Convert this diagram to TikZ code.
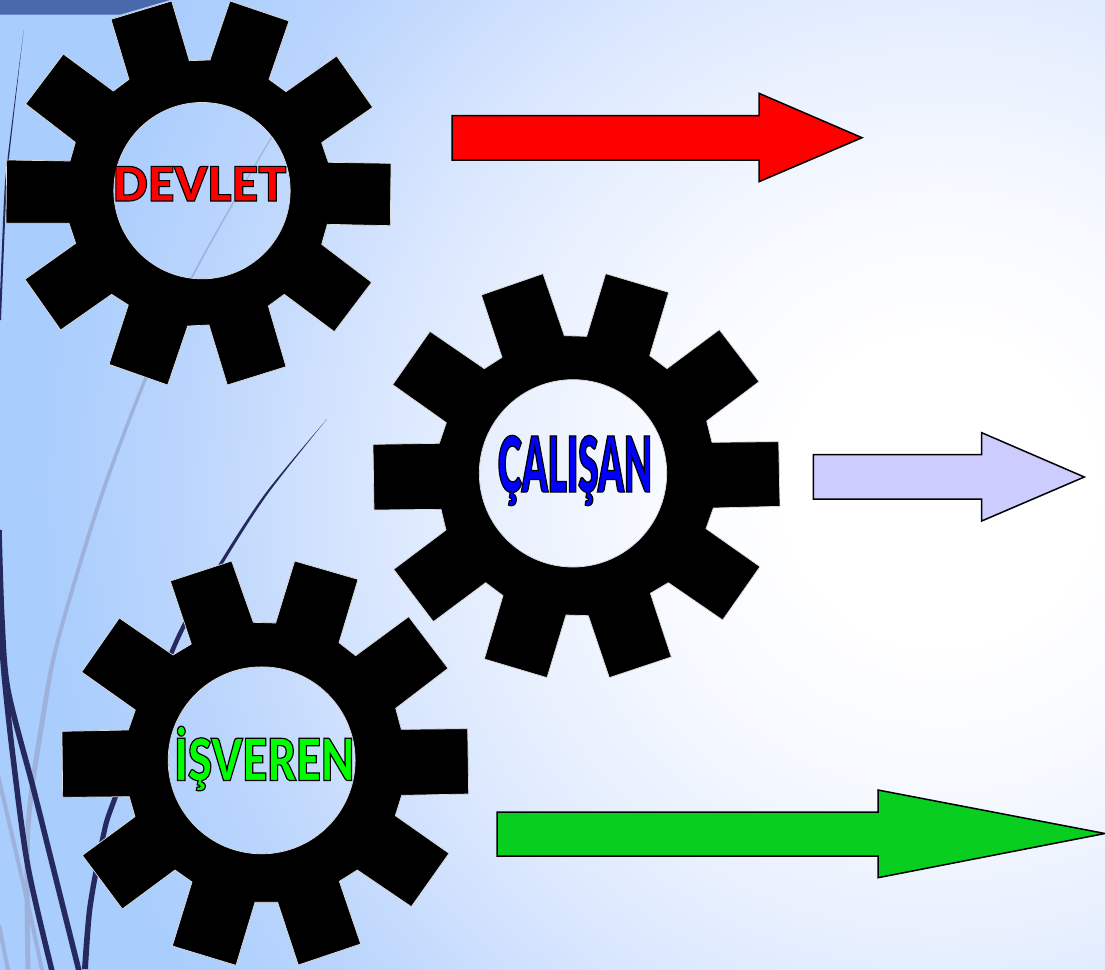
\documentclass[tikz,border=0pt]{standalone}
\usepackage{fontspec}
\setmainfont{Liberation Sans}
\IfFontExistsTF{Noto Sans Black}{\def\heavyname{Noto Sans Black}\def\heavyopt{}}{\IfFontExistsTF{Lato Black}{\def\heavyname{Lato Black}\def\heavyopt{}}{\def\heavyname{Liberation Sans}\def\heavyopt{/B}}}
\font\wordA="\heavyname\heavyopt:embolden=2.4;extend=.975" at 47.5pt
\font\wordB="\heavyname\heavyopt:embolden=1.6;extend=.474" at 77pt
\font\wordC="\heavyname\heavyopt:embolden=2;extend=.75" at 58pt
\newcommand{\blackstroke}{\special{pdf:code 0 0 0 RG}}
\definecolor{navy}{HTML}{26295E}
\definecolor{paleline}{HTML}{9DB1DA}
\definecolor{topband}{HTML}{4A69AD}
\definecolor{gearedge}{HTML}{DDDDDD}
\definecolor{lav}{HTML}{CCCCFF}
\definecolor{arrowgreen}{HTML}{08CF1F}
\definecolor{bgA}{HTML}{FFFFFF}
\definecolor{bgB}{HTML}{F6F9FF}
\definecolor{bgC}{HTML}{E8F0FE}
\definecolor{bgD}{HTML}{D5E4FE}
\definecolor{bgE}{HTML}{BCD6FD}
\definecolor{bgF}{HTML}{A9CDFD}
\pgfdeclareradialshading{bgshade}{\pgfpoint{0bp}{0bp}}{%
 color(0bp)=(bgA); color(3.125bp)=(bgA); color(6.25bp)=(bgB); color(9.375bp)=(bgC);
 color(12.5bp)=(bgD); color(15.6bp)=(bgE); color(18.75bp)=(bgF); color(25bp)=(bgF); color(50bp)=(bgF)}
\tikzset{
  gear/.style={fill=black,draw=gearedge,line width=.7pt,even odd rule},
  block/.style={draw=black,line width=1.5pt,miter limit=10},
  wordart/.style={inner sep=0pt,anchor=base},
}
\begin{document}
\begin{tikzpicture}[x=1pt,y=-1pt]
\useasboundingbox (0,0) rectangle (1105,969);
\begin{scope}
 \clip (0,0) rectangle (1105,969);
 \shade[shading=bgshade] (940,490) circle [radius=1200pt];
 \fill[topband] (0,0) -- (170,0) -- (120,14.7) -- (0,14.7) -- cycle;
 % pale curves
 \fill[paleline] plot[smooth] coordinates {(328,53) (269.4,140) (191,277) (143.3,380) (98,500) (56,640) (40.5,717) (25.5,827) (25.5,969)}
   -- plot[smooth] coordinates {(30.5,969) (30.5,827) (45.5,717) (60,640) (102,500) (146.7,380) (193,277) (270.6,140) (328,53)} -- cycle;
 \draw[paleline,line width=4pt] plot[smooth] coordinates {(-2,775) (27,900) (43,975)};
 \draw[paleline,line width=4pt] (-1,925) -- (9,975);
 % dark curves
 \fill[navy] plot[smooth] coordinates {(23.7,30) (7.6,158) (4,200) (-1,320)}
   -- plot[smooth] coordinates {(1,320) (6,200) (9,158) (23.7,30)} -- cycle;
 \fill[navy] plot[smooth] coordinates {(327,419) (266,492.5) (220.7,561) (175,639) (112.7,797) (100.6,836) (87.4,906) (82,969)}
   -- plot[smooth] coordinates {(88,969) (92.6,908) (105.4,838) (117.3,799) (179,641) (223.3,563) (268,493.5) (327,419)} -- cycle;
 \draw[navy,line width=5.5pt] plot[smooth] coordinates {(-1,530) (2,620) (8,690) (33,787) (53,867) (80,975)};
 \draw[navy,line width=5.5pt] plot[smooth] coordinates {(-1,600) (4,673) (13,757) (28,867) (53,975)};
\end{scope}
% gears
\begin{scope}[x=.33333pt,y=-.33333pt]
\path[gear] (333,58)--(515,3)--(568,182)--(630,180)--(690,3)--(867,63)--(807,238)--(858,275)--(1010,168)--(1118,322)--(965,428)--(985,487)--(1173,490)--(1171,677)--(982,673)--(965,733)--(1115,847)--(1003,995)--(853,883)--(805,918)--(858,1100)--(682,1155)--(627,975)--(563,978)--(503,1155)--(327,1093)--(385,915)--(335,883)--(182,990)--(75,838)--(227,730)--(207,670)--(18,670)--(20,480)--(210,483)--(226,427)--(77,312)--(190,162)--(340,273)--(387,238)--cycle
 (606,572) circle [radius=88.2pt];
\end{scope}
\begin{scope}[yshift=-265pt,xshift=365pt,x=.33333pt,y=-.33333pt]
\path[gear] (349,90)--(534,26)--(598,212)--(665,214)--(722,26)--(911,82)--(854,272)--(906,311)--(1063,194)--(1182,350)--(1025,468)--(1041,532)--(1241,530)--(1245,724)--(1045,729)--(1023,791)--(1185,905)--(1073,1065)--(910,953)--(856,985)--(919,1176)--(733,1238)--(670,1052)--(603,1050)--(546,1238)--(358,1182)--(414,992)--(362,953)--(205,1070)--(86,913)--(243,795)--(228,733)--(27,735)--(24,538)--(223,535)--(244,473)--(83,359)--(195,199)--(358,311)--(411,277)--cycle
 (624,625) circle [radius=93.7pt];
\end{scope}
\begin{scope}[yshift=-560pt,x=.33333pt,y=-.33333pt]
\path[gear] (511,63)--(695,3)--(760,187)--(827,189)--(884,3)--(1074,58)--(1017,248)--(1067,287)--(1226,170)--(1344,325)--(1187,445)--(1204,508)--(1403,506)--(1406,702)--(1205,706)--(1186,767)--(1347,880)--(1234,1040)--(1072,930)--(1018,964)--(1082,1152)--(895,1215)--(833,1027)--(765,1027)--(708,1216)--(517,1158)--(576,966)--(525,930)--(367,1047)--(247,886)--(405,770)--(388,710)--(188,712)--(186,514)--(385,510)--(406,450)--(245,336)--(358,174)--(519,285)--(574,252)--cycle
 (785,601) circle [radius=93.5pt];
\end{scope}
% arrows
\path[block,fill=red] (452,115.7)--(759,115.7)--(759,93.3)--(862,137.7)--(759,181.7)--(759,160)--(452,160)--cycle;
\path[block,fill=lav] (813.3,454.7)--(981.7,454.7)--(981.7,432.7)--(1084.3,477)--(981.7,521)--(981.7,499)--(813.3,499)--cycle;
\path[block,fill=arrowgreen] (497,812)--(878,812)--(878,790)--(1105,833.5)--(878,877.7)--(878,856)--(497,856)--cycle;
% labels
\node[wordart,text=red] (devlet) at (199.5,201) {\blackstroke\wordA DEVLET};
\node[wordart,text=blue] (calisan) at (575,492) {\blackstroke\wordB ÇALIŞAN};
\node[wordart,text=green] (isveren) at (264.5,780.5) {\blackstroke\wordC İŞVEREN};
\end{tikzpicture}
\end{document}
